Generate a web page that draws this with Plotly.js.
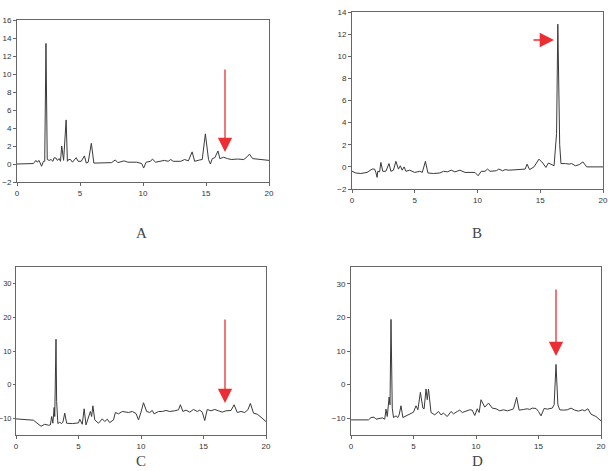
<!DOCTYPE html>
<html>
<head>
<meta charset="utf-8">
<script src="https://cdn.plot.ly/plotly-3.0.1.min.js"></script>
<style>html,body{margin:0;padding:0;background:#fff;} #chart{width:608px;height:471px;}</style>
</head>
<body>
<div id="chart"></div>
<script>
// Panel A
const timeA = [0,1.3,1.5,1.6,1.75,1.95,2.1,2.2,2.3,2.4,2.55,2.7,2.85,2.95,3.1,3.2,3.35,3.45,3.55,3.7,3.9,4.0,4.1,4.25,4.4,4.7,4.85,5.1,5.35,5.5,5.65,5.9,6.1,7,7.5,7.8,8.0,8.5,8.8,9.5,9.9,10.05,10.25,10.6,10.75,11,11.7,12.0,12.2,12.4,13.0,13.3,13.6,13.9,14.1,14.5,14.7,14.95,15.2,15.35,15.5,15.7,15.95,16.1,16.4,16.7,17,17.5,18.0,18.3,18.45,18.7,19,20];
const signalA = [0,0.05,0.4,0.2,0.4,-0.25,0.3,0.3,13.4,0.5,0.4,0.5,0.3,0.7,0.65,0.4,0.6,0.3,2.0,0.4,4.9,0.3,0.5,0.5,0.2,0.7,0.3,0.3,0.9,0.1,0.2,2.3,0.1,0.1,0.15,0.45,0.15,0.35,0.2,0.2,0.05,-0.45,0.2,0.3,0.55,0.2,0.4,0.3,0.5,0.3,0.3,0.5,0.35,1.35,0.3,0.45,0.5,3.35,0.5,0.0,0.6,0.7,1.45,0.6,0.75,0.6,0.5,0.55,0.5,0.85,1.1,0.6,0.55,0.4];
// Panel B
const timeB = [0,0.3,0.7,1.2,1.6,1.8,1.9,2.0,2.05,2.2,2.3,2.45,2.7,2.95,3.1,3.3,3.5,3.7,3.85,4.0,4.15,4.3,4.6,5.0,5.4,5.6,5.85,6.05,6.5,7,7.3,7.6,7.9,8.2,8.6,9.0,9.8,10.05,10.3,10.6,10.8,11.0,11.5,11.7,12,12.2,12.5,13.2,13.5,13.8,13.95,14.15,14.5,14.9,15.2,15.45,15.65,15.9,16.1,16.3,16.4,16.55,16.65,17,17.3,17.5,17.8,18.1,18.4,18.7,19.0,19.5,20];
const signalB = [-0.4,-0.55,-0.6,-0.5,-0.2,-0.2,-0.5,-0.95,-0.4,-0.45,0.4,-0.4,-0.4,0.3,-0.4,-0.3,0.5,-0.2,0.1,-0.3,0.0,-0.4,-0.3,-0.5,-0.4,-0.5,0.5,-0.55,-0.6,-0.55,-0.4,-0.45,-0.3,-0.45,-0.3,-0.5,-0.5,-0.8,-0.4,-0.4,-0.2,-0.4,-0.35,-0.2,-0.35,-0.25,-0.3,-0.25,-0.2,-0.2,0.25,-0.25,0.0,0.7,0.35,-0.05,0.35,0.2,0.1,3,12.9,2,0.3,0.3,0.25,0.3,0.1,0.2,0.45,0.0,0.0,0.05,0.0];
// Panel C
const timeC = [0,0.7,1.4,1.6,2.0,2.3,2.6,2.75,2.85,2.95,3.05,3.1,3.2,3.25,3.35,3.5,3.65,3.75,3.9,4.05,4.5,5.0,5.1,5.3,5.45,5.6,5.8,5.95,6.05,6.15,6.3,6.6,6.9,7.1,7.3,7.5,7.8,7.95,8.2,8.5,9.0,9.3,9.6,9.8,10.0,10.2,10.45,10.7,10.9,11.05,11.4,11.7,12,12.3,12.7,13.0,13.15,13.35,13.6,13.9,14.2,14.5,14.7,14.9,15.1,15.3,15.6,15.9,16.2,16.5,16.8,17.2,17.45,17.7,18.0,18.3,18.55,18.75,19.0,19.3,19.6,20];
const signalC = [-10.2,-10.4,-10.6,-11.2,-12.4,-11.8,-12.1,-12.0,-9.5,-11.5,-6.8,-9.5,13.5,-5,-11.6,-11.2,-11.6,-11.2,-8.5,-11.5,-11.6,-11.4,-10.3,-11.8,-7.2,-12.0,-9.8,-8.0,-9.5,-6.3,-10.5,-11.5,-10.2,-11.0,-10.3,-11.3,-10.5,-8.3,-8.7,-8.0,-8.3,-8.0,-8.6,-10.5,-8.2,-5.4,-8.0,-8.3,-7.7,-8.7,-8.0,-8.0,-7.7,-8.0,-7.8,-7.5,-6.0,-8.0,-7.6,-8.2,-7.4,-8.0,-7.6,-8.2,-10.7,-7.4,-7.8,-7.4,-7.8,-8.2,-7.8,-7.7,-6.0,-8.3,-8.0,-8.3,-7.5,-5.6,-8.5,-8.8,-9.7,-11.0];
// Panel D
const timeD = [0,1.4,1.6,1.85,2.0,2.3,2.5,2.7,2.8,2.9,3.05,3.12,3.2,3.3,3.4,3.6,3.75,3.85,4.0,4.15,4.5,5.0,5.2,5.35,5.55,5.75,5.85,6.0,6.1,6.2,6.4,6.7,7.0,7.2,7.4,7.7,8.0,8.2,8.5,8.7,8.9,9.2,9.5,9.7,9.9,10.1,10.25,10.4,10.7,11.0,11.3,11.6,11.9,12.2,12.5,12.8,13.0,13.25,13.45,13.8,14.1,14.3,14.5,14.8,15.0,15.2,15.45,15.7,16.1,16.25,16.4,16.55,16.7,17.0,17.3,17.6,17.9,18.2,18.5,18.7,18.95,19.2,19.6,20];
const signalD = [-10.5,-10.5,-9.8,-9.7,-10.3,-10.0,-9.9,-10.3,-7.3,-9.5,-3.7,-6,19.4,-7,-9.8,-9.3,-9.8,-9.0,-6.3,-9.8,-9.2,-8.2,-6.3,-7.5,-2.3,-7.0,-7.2,-1.3,-4.5,-1.3,-8.3,-9.0,-8.0,-9.0,-8.5,-9.5,-8.0,-8.7,-8.0,-7.6,-8.3,-7.8,-7.5,-7.6,-9.2,-7.2,-8.3,-4.5,-6.7,-5.5,-7.0,-7.2,-7.8,-7.5,-7.8,-7.5,-7.2,-3.8,-7.6,-7.4,-7.2,-7.4,-7.0,-7.1,-8.0,-9.3,-7.1,-7.3,-7.0,-6,6.0,-6,-7.5,-7.6,-7.5,-7.0,-7.6,-7.9,-7.5,-7.8,-7.2,-8.8,-9.5,-10.8];

const panelLabels = ["A","B","C","D"];
const xTicks = [0,5,10,15,20];

const W = 608, H = 471;
const lineStyle = {color:'#3a3a3a', width:1};
function tr(x,y,i){
  const s = i===1 ? '' : String(i);
  return {x:x, y:y, type:'scatter', mode:'lines', line:lineStyle, xaxis:'x'+s, yaxis:'y'+s, hoverinfo:'skip'};
}
const data = [tr(timeA,signalA,1), tr(timeB,signalB,2), tr(timeC,signalC,3), tr(timeD,signalD,4)];

function ax(dom, range, dtick, anchor){
  return {domain:dom, range:range, dtick:dtick, tick0:0, anchor:anchor,
    showgrid:false, zeroline:false, showline:true, mirror:true, linecolor:'#666', linewidth:1,
    ticks:'outside', ticklen:3, tickwidth:1, tickcolor:'#666',
    tickfont:{family:'Liberation Sans, Arial, sans-serif', size:8, color:'#333'}, fixedrange:true};
}
const px = v => v/W, py = v => 1 - v/H;
const layout = {
  width:W, height:H, margin:{l:0,r:0,t:0,b:0}, paper_bgcolor:'#fff', plot_bgcolor:'#fff', showlegend:false,
  xaxis: Object.assign(ax([px(17),px(269)],[0,20],5,'y'), {tickvals:xTicks}),
  yaxis: ax([py(182),py(20)],[-2,16],2,'x'),
  xaxis2: Object.assign(ax([px(352),px(603)],[0,20],5,'y2'), {tickvals:xTicks}),
  yaxis2: ax([py(189),py(12)],[-2,14],2,'x2'),
  xaxis3: Object.assign(ax([px(16),px(266)],[0,20],5,'y3'), {tickvals:xTicks}),
  yaxis3: Object.assign(ax([py(435),py(267)],[-15,35],10,'x3'), {ticklen:2, tickfont:{family:'Liberation Sans, Arial, sans-serif', size:7.5, color:'#333'}}),
  xaxis4: Object.assign(ax([px(351),px(601)],[0,20],5,'y4'), {tickvals:xTicks}),
  yaxis4: ax([py(435),py(267)],[-15,35],10,'x4'),
  annotations: []
};
const labelPos = [[141,233],[477,233],[141,461],[477,461]];
panelLabels.forEach((t,i)=>{
  layout.annotations.push({text:t, xref:'paper', yref:'paper', x:px(labelPos[i][0]), y:py(labelPos[i][1]),
    xanchor:'center', yanchor:'middle', showarrow:false,
    font:{family:'Liberation Serif, DejaVu Serif, serif', size:15, color:'#444'}});
});
const arrows = [[225,152,0,-84],[554,40,-22,0],[225,403,0,-85],[556,356,0,-68]];
arrows.forEach(a=>{
  layout.annotations.push({text:'', xref:'paper', yref:'paper', x:px(a[0]), y:py(a[1]), ax:a[2], ay:a[3],
    showarrow:true, arrowhead:2, arrowsize:2.2, arrowwidth:1.3, arrowcolor:'#ea2e34', standoff:0});
});
Plotly.newPlot('chart', data, layout, {staticPlot:true, displayModeBar:false});
</script>
</body>
</html>
